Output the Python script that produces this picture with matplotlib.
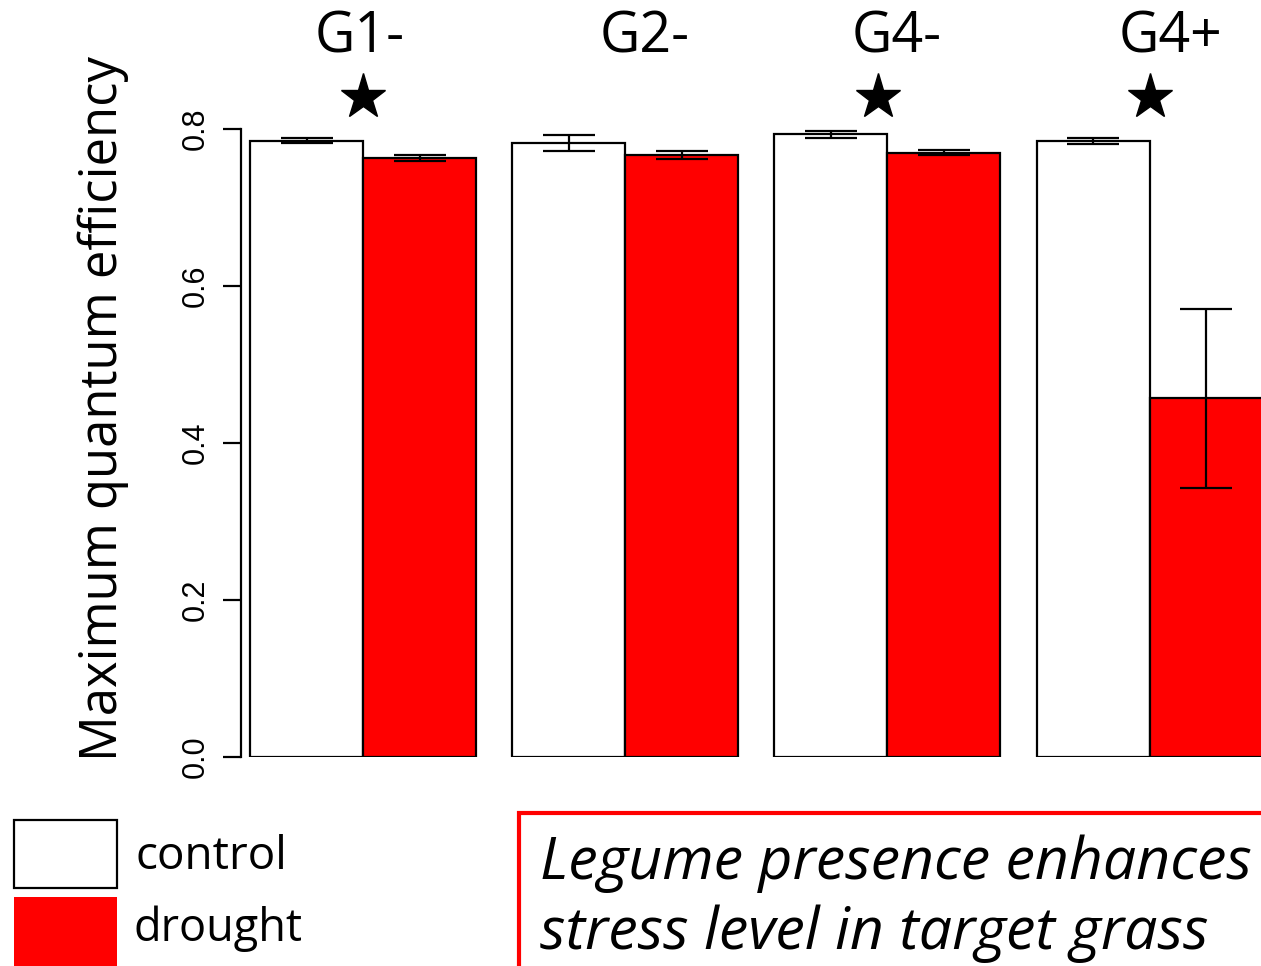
import matplotlib
matplotlib.use("Agg")
import matplotlib.pyplot as plt
from matplotlib.patches import Rectangle

groups = ["G1-", "G2-", "G4-", "G4+"]
control = [0.785, 0.782, 0.793, 0.785]
control_err = [0.003, 0.010, 0.004, 0.004]
drought = [0.763, 0.767, 0.770, 0.457]
drought_err = [0.004, 0.0055, 0.0036, 0.114]
significant = [True, False, True, True]
yticks = [0.0, 0.2, 0.4, 0.6, 0.8]
legend_labels = ["control", "drought"]
note_lines = ["Legume presence enhances", "stress level in target grass"]

W, H = 1261, 966
fig = plt.figure(figsize=(W / 100, H / 100), dpi=100)
fig.patch.set_facecolor("white")

def fx(px):
    return px / W

def fy(py):
    return 1 - py / H

ax = fig.add_axes([fx(241), fy(757), fx(1261 - 241), (757 - 129) / H])
ax.set_ylim(0, 0.8)
ax.set_xlim(0, (1261 - 241) / 113)

bar_w = 1.0
gap = 0.32
start = 0.08
star_shift = [0.0, 0.0, -0.08, 0.0]
for i in range(len(groups)):
    left = start + i * (2 * bar_w + gap)
    xc = left + bar_w / 2
    xd = left + 1.5 * bar_w
    ax.bar(xc, control[i], width=bar_w, color="white", edgecolor="black", linewidth=1.6, zorder=2)
    ax.bar(xd, drought[i], width=bar_w, color="#ff0000", edgecolor="black", linewidth=1.6, zorder=2)
    ax.errorbar([xc], [control[i]], yerr=[control_err[i]], fmt="none", ecolor="black",
                elinewidth=1.6, capsize=19, capthick=1.6, zorder=3, clip_on=False)
    ax.errorbar([xd], [drought[i]], yerr=[drought_err[i]], fmt="none", ecolor="black",
                elinewidth=1.6, capsize=19, capthick=1.6, zorder=3, clip_on=False)
    if significant[i]:
        ax.plot([left + bar_w + star_shift[i]], [0.841], marker="*", markersize=34,
                color="black", clip_on=False, zorder=4)

for s in ["top", "right", "bottom"]:
    ax.spines[s].set_visible(False)
ax.spines["left"].set_bounds(0, 0.8)
ax.spines["left"].set_linewidth(1.6)
ax.set_xticks([])
ax.set_yticks(yticks)
ax.set_yticklabels([f"{v:.1f}" for v in yticks], rotation=90, va="center",
                   family="Liberation Sans", fontsize=22)
ax.tick_params(axis="y", length=13, width=1.6, pad=9)

fig.text(fx(103), fy(409), "Maximum quantum efficiency", rotation=90, ha="center",
         va="center", family="Open Sans", fontsize=36.5)

group_label_x = [360, 645, 897, 1170]
for lab, px in zip(groups, group_label_x):
    fig.text(fx(px), fy(38), lab, ha="center", va="center", family="Open Sans", fontsize=40)

# legend
fig.patches.append(Rectangle((fx(14), fy(888)), fx(117 - 14), (888 - 820) / H,
                             transform=fig.transFigure, facecolor="white",
                             edgecolor="black", linewidth=1.6))
fig.patches.append(Rectangle((fx(14), fy(966)), fx(117 - 14), (966 - 897) / H,
                             transform=fig.transFigure, facecolor="#ff0000",
                             edgecolor="none"))
fig.text(fx(135), fy(857), legend_labels[0], ha="left", va="center", family="Open Sans", fontsize=33)
fig.text(fx(133), fy(929), legend_labels[1], ha="left", va="center", family="Open Sans", fontsize=32.5)

# note box
fig.patches.append(Rectangle((fx(519), fy(980)), fx(800), (980 - 813) / H,
                             transform=fig.transFigure, facecolor="none",
                             edgecolor="#ff0000", linewidth=3))
fig.text(fx(540), fy(864), note_lines[0], ha="left", va="center", family="Open Sans",
         style="italic", fontsize=42.5)
fig.text(fx(540), fy(934), note_lines[1], ha="left", va="center", family="Open Sans",
         style="italic", fontsize=42.5)

fig.savefig("out.png", dpi=100)
